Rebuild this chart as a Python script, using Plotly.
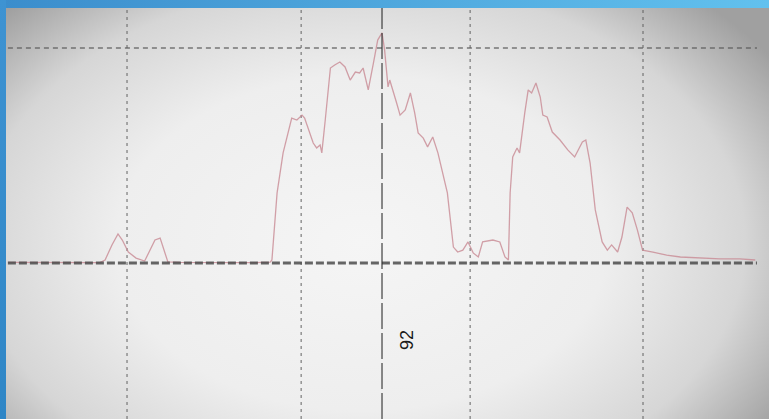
import base64
import plotly.graph_objects as go

# Trace samples (position, signal level); level 100 sits on the upper reference line
pos = [48.5, 52.2, 55.7, 59.2, 59.8, 60.6, 61.3, 61.8, 62.5, 63.4, 64.4, 65.0, 65.6,
       66.2, 66.7, 67.1, 68.5, 70.8, 74.3, 77.2, 79.0, 79.2, 79.8, 80.5, 81.5, 82.1,
       82.7, 83.0, 84.0, 84.4, 84.8, 85.0, 85.4, 86.0, 86.5, 87.1, 87.7, 88.3, 88.9,
       89.4, 89.8, 90.4, 91.0, 91.5, 92.0, 92.3, 92.7, 92.9, 93.7, 94.1, 94.7, 95.3,
       95.8, 96.2, 96.8, 97.3, 97.9, 98.5, 99.6, 100.3, 100.8, 101.4, 102.0, 102.6,
       103.2, 103.7, 104.9, 105.7, 106.3, 106.7, 106.9, 107.2, 107.7, 108.0, 108.6,
       109.0, 109.4, 109.9, 110.4, 110.7, 111.2, 111.8, 112.7, 113.6, 114.4, 115.3,
       115.7, 116.2, 116.8, 117.6, 118.2, 118.7, 119.4, 119.9, 120.5, 121.1, 121.7,
       122.3, 123.5, 125.1, 126.7, 129.0, 131.3, 133.6, 135.4]
level = [0.3, 0.2, 0.3, 0.2, 1.4, 8.4, 13.5, 10.7, 5.1, 2.3, 0.9, 6.0, 10.7,
         11.6, 6.0, 0.5, 0.3, 0.2, 0.3, 0.2, 0.4, 1.4, 32.6, 51.2, 67.4, 66.5,
         68.8, 67.4, 55.8, 53.5, 54.9, 51.2, 66.5, 90.7, 92.1, 93.5, 91.2, 85.1, 88.8,
         88.4, 90.7, 80.5, 93.0, 103.7, 107.0, 99.1, 81.9, 85.1, 74.4, 68.8, 71.2, 79.1,
         69.8, 60.5, 58.1, 54.0, 58.6, 51.2, 32.6, 7.4, 5.1, 6.0, 9.8, 4.7,
         2.8, 9.8, 10.7, 9.8, 2.8, 1.4, 32.6, 49.3, 53.5, 51.2, 69.8,
         80.5, 79.1, 83.7, 77.2, 68.8, 67.9, 60.9, 57.2, 52.6, 49.3, 56.3,
         57.2, 46.5, 24.7, 9.8, 6.0, 8.4, 5.1, 12.1, 26.0, 23.3, 15.3,
         6.0, 5.1, 3.7, 2.8, 2.3, 1.9, 1.9, 1.4]

grid_x = [62.35, 82.6, 102.25, 122.35]
ref_level = 100
baseline_level = 0
marker_pos = 92
marker_text = "92"

X_RANGE = [47.58, 137.0]
Y_RANGE = [-72.56, 122.33]

# Background: vignetted paper with a blue frame on the top and left edges
svg = """<svg xmlns='http://www.w3.org/2000/svg' width='769' height='419' viewBox='0 0 769 419'>
<defs>
<radialGradient id='v' cx='0.47' cy='0.58' r='0.64' gradientTransform='translate(0.47 0.58) scale(1 1.25) translate(-0.47 -0.58)'>
<stop offset='0' stop-color='#f5f5f5'/>
<stop offset='0.5' stop-color='#eeeeee'/>
<stop offset='0.78' stop-color='#d6d6d6'/>
<stop offset='1' stop-color='#a0a0a0'/>
</radialGradient>
<linearGradient id='t' x1='0' y1='0' x2='1' y2='0'>
<stop offset='0' stop-color='#3b8dcc'/>
<stop offset='1' stop-color='#62c1ee'/>
</linearGradient>
<linearGradient id='l' x1='0' y1='0' x2='0' y2='1'>
<stop offset='0' stop-color='#3e93d2'/>
<stop offset='1' stop-color='#2f86c6'/>
</linearGradient>
</defs>
<rect width='769' height='419' fill='url(#v)'/>
<rect width='769' height='8' fill='url(#t)'/>
<rect width='6' height='419' fill='url(#l)'/>
</svg>"""
bg_src = "data:image/svg+xml;base64," + base64.b64encode(svg.encode()).decode()

fig = go.Figure()

fig.add_trace(go.Scatter(
    x=pos, y=level, mode="lines",
    line=dict(color="rgba(200,138,148,0.8)", width=1.3, shape="linear"),
    hoverinfo="skip", showlegend=False,
))

shapes = []
for gx in grid_x:
    shapes.append(dict(type="line", xref="x", yref="paper", x0=gx, x1=gx, y0=0, y1=0.981,
                       line=dict(color="rgba(95,95,95,0.75)", width=1.3, dash="3px,4px"),
                       layer="below"))
shapes.append(dict(type="line", xref="x", yref="y", x0=48.5, x1=135.6, y0=ref_level, y1=ref_level,
                   line=dict(color="rgba(90,90,90,0.8)", width=1.6, dash="5px,4px"), layer="below"))
shapes.append(dict(type="line", xref="x", yref="y", x0=48.5, x1=135.6, y0=baseline_level,
                   y1=baseline_level,
                   line=dict(color="rgba(75,75,75,0.85)", width=3, dash="8px,3px"), layer="above"))
shapes.append(dict(type="line", xref="x", yref="paper", x0=marker_pos, x1=marker_pos, y0=0, y1=0.981,
                   line=dict(color="rgba(45,45,45,0.9)", width=1.2, dash="26px,4px"), layer="above"))

fig.add_annotation(x=marker_pos, y=-35.8, xref="x", yref="y", text=marker_text,
                   textangle=-90, showarrow=False, xshift=25,
                   font=dict(family="Liberation Sans, Arial, sans-serif", size=18, color="#1a1a1a"))

fig.update_layout(
    width=769, height=419,
    margin=dict(l=0, r=0, t=0, b=0),
    paper_bgcolor="#e8e8e8",
    plot_bgcolor="rgba(0,0,0,0)",
    shapes=shapes,
    images=[dict(source=bg_src, xref="paper", yref="paper", x=0, y=1, sizex=1, sizey=1,
                 xanchor="left", yanchor="top", sizing="stretch", layer="below")],
    xaxis=dict(range=X_RANGE, showgrid=False, zeroline=False, showticklabels=False,
               ticks="", showline=False, fixedrange=True),
    yaxis=dict(range=Y_RANGE, showgrid=False, zeroline=False, showticklabels=False,
               ticks="", showline=False, fixedrange=True),
)

fig.write_html("out.html")
